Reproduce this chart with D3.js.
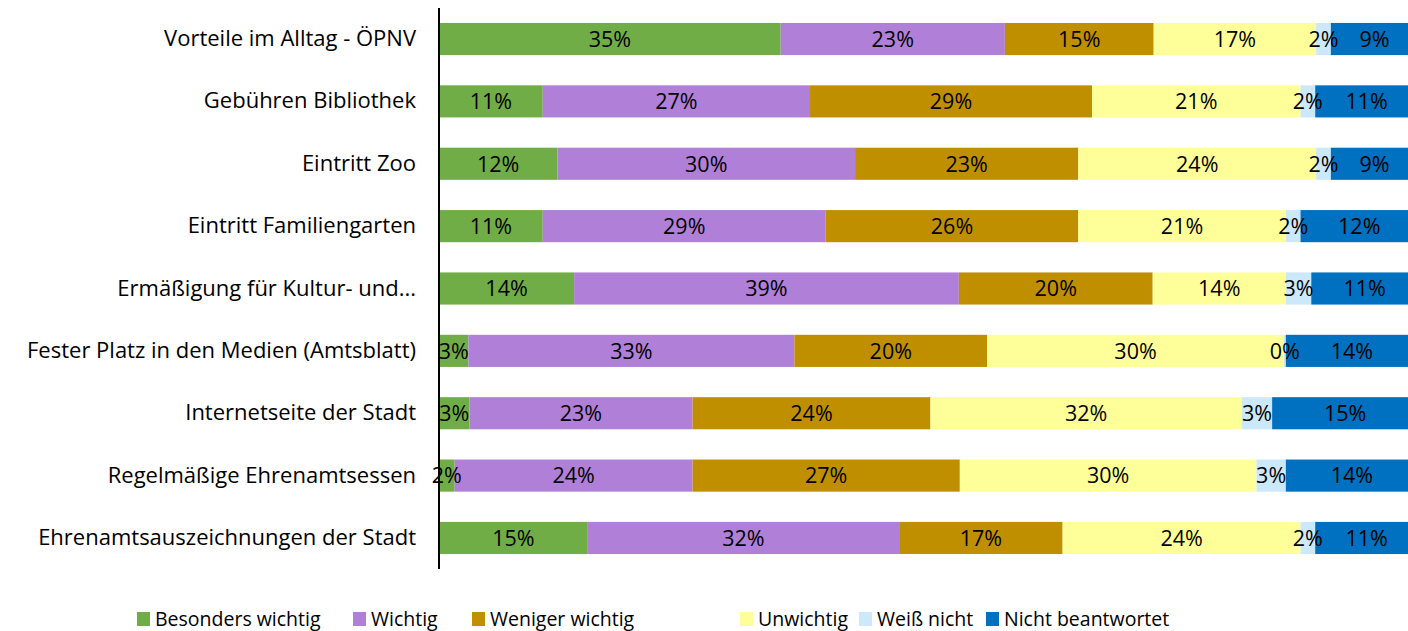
<!DOCTYPE html>
<html>
<head>
<meta charset="utf-8">
<script src="https://cdn.jsdelivr.net/npm/d3@7"></script>
<style>
  body { margin: 0; background: #fff; }
  svg { display: block; font-family: "Open Sans", sans-serif; }
</style>
</head>
<body>
<div id="chart"></div>
<script>
// Chart size and margins
const width = 1408;
const height = 631;
const margin = { top: 8, right: -10, bottom: 62, left: 439 };

// Data
const categories = [
    "Vorteile im Alltag - ÖPNV",
    "Gebühren Bibliothek",
    "Eintritt Zoo",
    "Eintritt Familiengarten",
    "Ermäßigung für Kultur- und...",
    "Fester Platz in den Medien (Amtsblatt)",
    "Internetseite der Stadt",
    "Regelmäßige Ehrenamtsessen",
    "Ehrenamtsauszeichnungen der Stadt"
];
const seriesNames = ["Besonders wichtig", "Wichtig", "Weniger wichtig", "Unwichtig", "Weiß nicht", "Nicht beantwortet"];
const besondersWichtig = [34.9, 10.6, 12.1, 10.6, 13.8, 3.0, 3.1, 1.6, 15.2];
const wichtig          = [22.9, 27.3, 30.4, 28.9, 39.3, 33.3, 22.8, 24.3, 31.8];
const wenigerWichtig   = [15.2, 28.8, 22.8, 25.8, 19.8, 19.7, 24.3, 27.3, 16.7];
const unwichtig        = [16.6, 21.3, 24.3, 21.2, 13.6, 30.3, 31.8, 30.3, 24.3];
const weissNicht       = [1.5, 1.5, 1.5, 1.5, 2.6, 0.2, 3.1, 3.0, 1.5];
const nichtBeantwortet = [8.9, 10.5, 8.9, 12.0, 10.9, 13.5, 14.9, 13.5, 10.5];
const colors = ["#70ad47", "#b07fd8", "#bf8f00", "#ffff99", "#cce8fb", "#0070c0"];

const seriesValues = [besondersWichtig, wichtig, wenigerWichtig, unwichtig, weissNicht, nichtBeantwortet];

// Build table for stack
const table = categories.map((c, i) => {
    const row = { category: c };
    seriesNames.forEach((s, j) => { row[s] = seriesValues[j][i]; });
    return row;
});
const stacked = d3.stack().keys(seriesNames)(table);

const svg = d3.select("#chart").append("svg")
    .attr("width", width)
    .attr("height", height);

const innerW = width - margin.left - margin.right;
const innerH = height - margin.top - margin.bottom;

const g = svg.append("g")
    .attr("transform", `translate(${margin.left},${margin.top})`);

const x = d3.scaleLinear().domain([0, 100]).range([0, innerW]);
const y = d3.scaleBand().domain(categories).range([0, innerH]).paddingInner(0.485).paddingOuter(0.24);

// Bars
const layers = g.selectAll(".layer")
    .data(stacked)
    .enter()
    .append("g")
    .attr("class", "layer")
    .attr("fill", (d, i) => colors[i]);

layers.selectAll("rect")
    .data(d => d)
    .enter()
    .append("rect")
    .attr("x", d => x(d[0]))
    .attr("y", d => y(d.data.category))
    .attr("width", d => x(d[1]) - x(d[0]))
    .attr("height", y.bandwidth());

// Value labels (drawn on top of all bars)
const labels = g.append("g").attr("class", "labels");
stacked.forEach(layer => {
    labels.selectAll(null)
        .data(layer)
        .enter()
        .append("text")
        .attr("x", d => (x(d[0]) + x(d[1])) / 2)
        .attr("y", d => y(d.data.category) + y.bandwidth() / 2)
        .attr("dy", "0.36em")
        .attr("text-anchor", "middle")
        .attr("fill", "#000")
        .style("font-size", "21.5px")
        .text(d => Math.round(d[1] - d[0]) + "%");
});

// Vertical axis with category labels
const yAxis = g.append("g")
    .call(d3.axisLeft(y).tickSize(0).tickPadding(23));
yAxis.select(".domain")
    .attr("stroke", "#000")
    .attr("stroke-width", 2)
    .attr("d", `M0,0V${innerH}`);
yAxis.selectAll("text")
    .attr("fill", "#000")
    .style("font-size", "22px")
    .style("font-family", "'Open Sans', sans-serif");

// Legend
const legendX = [137, 353, 472, 740, 859, 986];
const legend = svg.append("g")
    .attr("transform", `translate(0,619)`);

const items = legend.selectAll(".item")
    .data(seriesNames)
    .enter()
    .append("g")
    .attr("class", "item")
    .attr("transform", (d, i) => `translate(${legendX[i]},0)`);

items.append("rect")
    .attr("x", 0)
    .attr("y", -7)
    .attr("width", 13)
    .attr("height", 14)
    .attr("fill", (d, i) => colors[i]);

items.append("text")
    .attr("x", 18)
    .attr("y", 0)
    .attr("dy", "0.36em")
    .style("font-size", "19.5px")
    .text(d => d);
</script>
</body>
</html>
